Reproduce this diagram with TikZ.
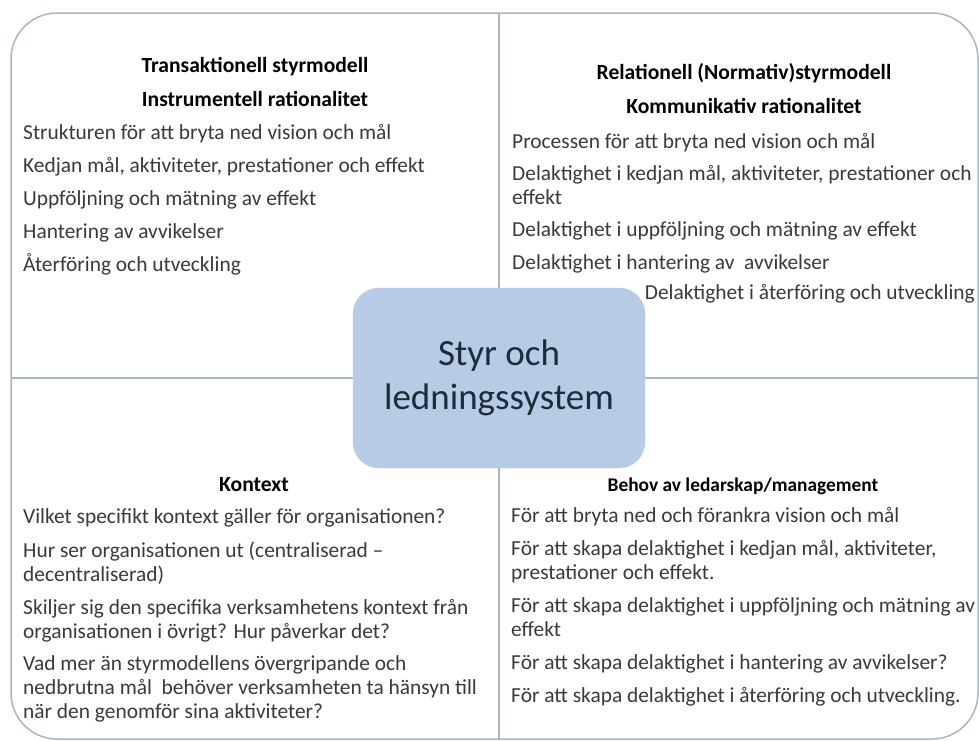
\documentclass[tikz,border=0pt]{standalone}
\usepackage{fontspec}
\setmainfont{Carlito}
\definecolor{frame}{HTML}{A9B6C6}
\definecolor{boxfill}{HTML}{B7CAE6}
\definecolor{bodytext}{HTML}{3A3A3A}
\definecolor{centertext}{HTML}{1E2B3A}
\tikzset{
  body/.style={anchor=base west, inner sep=0pt, text=bodytext, align=left,
    font=\fontsize{21.4}{24}\selectfont},
  bodyr/.style={anchor=base east, inner sep=0pt, text=bodytext,
    font=\fontsize{21.4}{24}\selectfont},
  title/.style={anchor=base, inner sep=0pt, text=black,
    font=\fontsize{21.6}{24}\selectfont\bfseries},
  smalltitle/.style={anchor=base, inner sep=0pt, text=black,
    font=\fontsize{19.4}{22}\selectfont\bfseries},
  divider/.style={draw=frame, line width=1.5pt},
}
\begin{document}
\begin{tikzpicture}[x=1pt,y=-1pt]
\useasboundingbox (0,0) rectangle (979,740);
\fill[white] (0,0) rectangle (979,740);
% outer frame
\draw[divider, rounded corners=46pt] (11,13) rectangle (978,739);
% dividers
\coordinate (vt) at (499,13);
\coordinate (vb) at (499,740);
\coordinate (hl) at (11,378);
\coordinate (hr) at (979,378);
\draw[divider] (vt) -- (vb);
\draw[divider] (hl) -- (hr);
% center box
\node[draw=boxfill, fill=boxfill, rounded corners=26pt, minimum width=292pt,
  minimum height=180pt, inner sep=0pt, text=centertext, align=center,
  font=\fontsize{37}{44}\selectfont] (center) at (499,378) {Styr och\\ledningssystem};

% top left
\node[title] (tl1) at (255,72) {Transaktionell styrmodell};
\node[title] (tl2) at (255,106) {Instrumentell rationalitet};
\node[body] (tla) at (23,139) {Strukturen för att bryta ned vision och mål};
\node[body] (tlb) at (23,172) {Kedjan mål, aktiviteter, prestationer och effekt};
\node[body] (tlc) at (23,205) {Uppföljning och mätning av effekt};
\node[body] (tld) at (23,238) {Hantering av avvikelser};
\node[body] (tle) at (23,271) {Återföring och utveckling};

% top right
\node[title] (tr1) at (744,79) {Relationell (Normativ)styrmodell};
\node[title] (tr2) at (744,113) {Kommunikativ rationalitet};
\node[body] (tra) at (512,148) {Processen för att bryta ned vision och mål};
\node[body] (trb) at (512,204) {Delaktighet i kedjan mål, aktiviteter, prestationer och\\effekt};
\node[body] (trc) at (512,236) {Delaktighet i uppföljning och mätning av effekt};
\node[body] (trd) at (512,269) {Delaktighet i hantering av~ avvikelser};
\node[bodyr] (tre) at (975,299) {Delaktighet i återföring och utveckling};

% bottom left
\node[title] (bl1) at (254,491) {Kontext};
\node[body] (bla) at (23,523) {Vilket specifikt kontext gäller för organisationen?};
\node[body] (blb) at (23,581) {Hur ser organisationen ut (centraliserad –\\decentraliserad)};
\node[body] (blc) at (23,638) {Skiljer sig den specifika verksamhetens kontext från\\organisationen i övrigt? Hur påverkar det?};
\node[body] (bld) at (23,718) {Vad mer än styrmodellens övergripande och\\nedbrutna mål~ behöver verksamheten ta hänsyn till\\när den genomför sina aktiviteter?};

% bottom right
\node[smalltitle] (br1) at (743,491) {Behov av ledarskap/management};
\node[body] (bra) at (511,522) {För att bryta ned och förankra vision och mål};
\node[body] (brb) at (511,579) {För att skapa delaktighet i kedjan mål, aktiviteter,\\prestationer och effekt.};
\node[body] (brc) at (511,636) {För att skapa delaktighet i uppföljning och mätning av\\effekt};
\node[body] (brd) at (511,669) {För att skapa delaktighet i hantering av avvikelser?};
\node[body] (bre) at (511,702) {För att skapa delaktighet i återföring och utveckling.};
\end{tikzpicture}
\end{document}
